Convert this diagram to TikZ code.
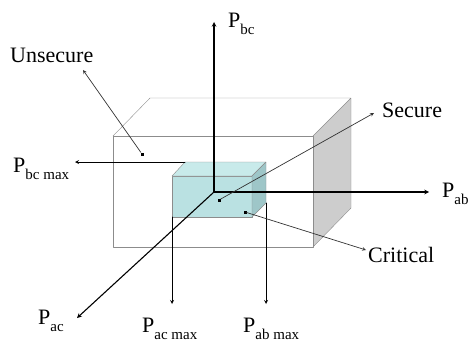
\documentclass[tikz,border=0pt]{standalone}
\usepackage{fontspec}
\setmainfont{Liberation Serif}
\definecolor{boxline}{RGB}{140,140,140}
\definecolor{sidegray}{RGB}{205,205,205}
\definecolor{cyanfront}{RGB}{186,225,226}
\definecolor{cyantop}{RGB}{200,234,234}
\definecolor{cyanside}{RGB}{158,198,200}
\newcommand{\Psub}[1]{P\raisebox{-7pt}{\fontsize{15}{15}\selectfont #1}}
\tikzset{
	axis/.style={->,line width=1.1pt,black},
	maxarrow/.style={->,line width=0.8pt,black},
	pointer/.style={->,line width=0.7pt,black!80},
	dot/.style={fill=black,inner sep=0,minimum size=3pt},
	lab/.style={anchor=base west,inner sep=0}
}
\begin{document}
\begin{tikzpicture}[x=1pt,y=-1pt,>=stealth, font=\fontsize{22}{26}\selectfont, line join=round, line cap=round]
	\useasboundingbox (0,0) rectangle (470,342);
	% outer region
	\fill[sidegray] (313,136)--(351,98)--(351,208)--(313,247)--cycle;
	\draw[boxline] (113,136) rectangle (313,247);
	\draw[boxline] (113,136)--(150,98)--(351,98)--(313,136) (351,98)--(351,208)--(313,247);
	% critical region
	\filldraw[draw=boxline,fill=cyanfront] (172,176) rectangle (252,217);
	\filldraw[draw=boxline,fill=cyantop] (172,176)--(185,162)--(266,162)--(252,176)--cycle;
	\filldraw[draw=boxline,fill=cyanside] (252,176)--(266,162)--(266,203)--(252,217)--cycle;
	% axes
	\coordinate (O) at (214,192);
	\coordinate (bcTip) at (214,22);
	\coordinate (abTip) at (429,192);
	\coordinate (acTip) at (77,318);
	\draw[axis] (O)--(bcTip);
	\draw[axis] (O)--(abTip);
	\draw[axis] (O)--(acTip);
	% limits
	\coordinate (bcStart) at (185,162); \coordinate (bcEnd) at (75,162);
	\coordinate (acStart) at (172,217); \coordinate (acEnd) at (172,304);
	\coordinate (abStart) at (266,203); \coordinate (abEnd) at (266,304);
	\draw[maxarrow] (bcStart)--(bcEnd);
	\draw[maxarrow] (acStart)--(acEnd);
	\draw[maxarrow] (abStart)--(abEnd);
	\node[lab] (bcLab) at (228,28) {\Psub{bc}};
	\node[lab] (abLab) at (442,197) {\Psub{ab}};
	\node[lab] (acLab) at (38,324) {\Psub{ac}};
	\node[lab] (bcMaxLab) at (13,172) {\Psub{bc max}};
	\node[lab] (acMaxLab) at (142,332) {\Psub{ac max}};
	\node[lab] (abMaxLab) at (243,332) {\Psub{ab max}};
	% regions
	\node[lab] (unsec) at (10,63) {Unsecure};
	\node[lab] (sec) at (382,117) {Secure};
	\node[lab] (crit) at (368,262) {Critical};
	\node[dot] (unsecDot) at (142,154) {};
	\node[dot] (secDot) at (219,200) {};
	\node[dot] (critDot) at (245,212) {};
	\coordinate (unsecTip) at (83,70);
	\coordinate (secTip) at (374,113);
	\coordinate (critTip) at (366,250);
	\draw[pointer] (unsecDot)--(unsecTip);
	\draw[pointer] (secDot)--(secTip);
	\draw[pointer] (critDot)--(critTip);
\end{tikzpicture}
\end{document}
